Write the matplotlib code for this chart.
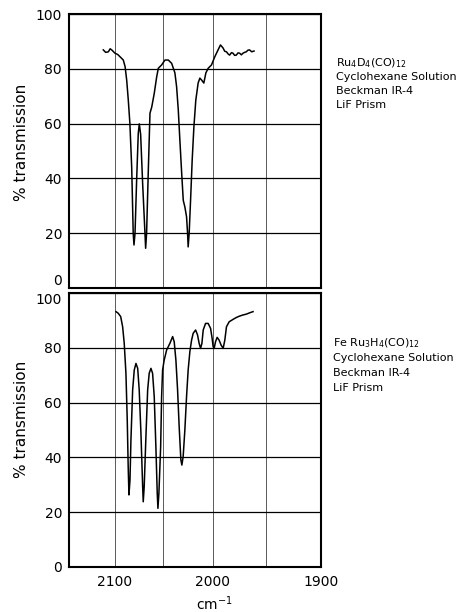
import numpy as np
import matplotlib
matplotlib.use("Agg")
import matplotlib.pyplot as plt

# Ru4D4(CO)12 spectrum (wavenumber cm-1, % transmission)
ru4d4_wn = [2112.6, 2110.0, 2107.1, 2105.2, 2103.5, 2100.0, 2097.0, 2094.6, 2091.1, 2089.2,
            2087.5, 2085.8, 2084.1, 2082.2, 2080.6, 2079.8, 2078.7, 2077.0, 2075.3, 2074.2,
            2072.8, 2070.7, 2068.3, 2067.6, 2066.6, 2064.9, 2063.1, 2061.3, 2058.7, 2056.2,
            2054.5, 2051.1, 2047.7, 2044.3, 2040.9, 2037.6, 2035.9, 2034.2, 2032.6, 2030.8,
            2029.2, 2027.6, 2025.9, 2024.9, 2024.3, 2023.3, 2021.9, 2020.3, 2018.6, 2016.7,
            2014.4, 2012.7, 2011.0, 2008.8, 2006.8, 2004.5, 2001.3, 1998.1, 1994.9, 1992.6,
            1990.1, 1988.5, 1986.8, 1985.2, 1983.8, 1982.0, 1980.6, 1979.0, 1977.4, 1975.8,
            1974.3, 1972.6, 1971.1, 1969.5, 1968.0, 1966.4, 1964.9, 1962.8, 1960.7]
ru4d4_t = [86.9, 86.0, 86.2, 87.3, 86.9, 85.7, 85.2, 84.4, 83.2, 80.8,
           75.9, 68.6, 60.0, 44.0, 20.0, 15.7, 20.0, 39.4, 56.4, 59.9,
           56.0, 38.0, 20.0, 14.5, 20.0, 42.0, 63.8, 66.0, 71.0, 77.0,
           80.2, 81.4, 83.2, 83.2, 82.0, 78.5, 73.5, 65.0, 54.0, 42.0,
           32.0, 29.6, 26.0, 20.0, 15.0, 20.0, 32.0, 46.7, 58.8, 68.6,
           74.8, 76.6, 75.9, 74.8, 78.5, 80.2, 81.4, 84.4, 86.9, 88.7,
           87.6, 86.4, 86.2, 85.4, 85.0, 85.9, 85.7, 84.9, 85.0, 85.8,
           85.7, 85.1, 85.7, 86.0, 86.2, 86.8, 86.9, 86.2, 86.5]

# FeRu3H4(CO)12 spectrum
feru3h4_wn = [2098.9, 2096.5, 2093.9, 2091.8, 2090.1, 2088.3, 2086.9, 2085.9, 2085.1, 2084.0,
              2083.0, 2081.2, 2079.5, 2077.7, 2075.9, 2074.3, 2072.5, 2070.7, 2070.1, 2069.1,
              2067.3, 2065.5, 2063.9, 2062.1, 2060.4, 2058.7, 2057.0, 2055.6, 2054.9, 2053.9,
              2052.1, 2051.1, 2050.1, 2048.5, 2046.0, 2042.7, 2039.9, 2038.3, 2036.6, 2034.9,
              2033.3, 2031.6, 2030.6, 2029.3, 2027.6, 2025.9, 2024.3, 2022.6, 2020.9, 2019.3,
              2016.9, 2015.0, 2013.4, 2012.0, 2010.7, 2009.4, 2007.1, 2004.6, 2002.2, 2000.7,
              1999.7, 1998.7, 1997.4, 1995.8, 1993.9, 1992.0, 1990.0, 1988.4, 1986.8, 1984.2,
              1980.4, 1977.2, 1974.1, 1970.9, 1967.8, 1964.6, 1961.6]
feru3h4_t = [93.2, 92.6, 91.4, 87.7, 81.6, 70.7, 53.6, 36.6, 26.3, 31.8,
             46.4, 64.6, 71.9, 74.3, 72.5, 64.6, 48.9, 29.3, 23.8, 29.3,
             47.6, 64.6, 70.7, 72.5, 70.7, 62.2, 43.9, 26.9, 21.4, 26.9,
             43.9, 62.2, 71.9, 75.5, 79.2, 81.6, 84.1, 82.2, 75.5, 64.6,
             51.2, 39.1, 37.2, 40.3, 50.0, 62.2, 71.9, 78.6, 82.8, 85.3,
             86.5, 84.7, 81.6, 79.8, 81.6, 86.5, 88.9, 88.9, 87.1, 83.5,
             80.4, 79.8, 82.2, 83.8, 82.8, 81.0, 79.8, 82.8, 87.7, 89.5,
             90.4, 91.1, 91.6, 92.0, 92.3, 92.8, 93.2]

x_ticks = [2100, 2050, 2000, 1950, 1900]
x_ticklabels = ["2100", "", "2000", "", "1900"]
y_ticks = [0, 20, 40, 60, 80, 100]

top_notes = [r"Ru$_4$D$_4$(CO)$_{12}$", "Cyclohexane Solution", "Beckman IR-4", "LiF Prism"]
bottom_notes = [r"Fe Ru$_3$H$_4$(CO)$_{12}$", "Cyclohexane Solution", "Beckman IR-4", "LiF Prism"]


# prism spectrum: linear in wavelength
def fwd(x):
    x = np.asarray(x, dtype=float)
    with np.errstate(divide="ignore", invalid="ignore"):
        return -1e4 / x


def inv(y):
    y = np.asarray(y, dtype=float)
    with np.errstate(divide="ignore", invalid="ignore"):
        return -1e4 / y


fig = plt.figure(figsize=(4.64, 6.12), dpi=100)
ax_top = fig.add_axes([69 / 464, 1 - 288 / 612, 252 / 464, 274 / 612])
ax_bot = fig.add_axes([69 / 464, 1 - 567 / 612, 252 / 464, 274 / 612])

for ax, wn, t in [(ax_top, ru4d4_wn, ru4d4_t), (ax_bot, feru3h4_wn, feru3h4_t)]:
    ax.set_xscale("function", functions=(fwd, inv))
    ax.set_xlim(2150.5, 1900)
    ax.set_ylim(0, 100)
    ax.set_xticks(x_ticks)
    ax.set_yticks(y_ticks)
    ax.minorticks_off()
    ax.tick_params(length=0, labelsize=10, pad=5)
    ax.grid(axis="y", color="black", linewidth=0.9)
    ax.grid(axis="x", color="0.35", linewidth=0.7)
    ax.plot(wn, t, color="black", linewidth=1.1)
    for s in ax.spines.values():
        s.set_linewidth(1.5)

ax_top.set_xticklabels([])
ax_bot.set_xticklabels(x_ticklabels)
ax_bot.tick_params(axis="x", pad=6)

# the "0" of the upper panel sits just above the "100" of the lower one
ax_top.get_yticklabels()[0].set_va("bottom")
ax_bot.get_yticklabels()[-1].set_va("top")

fig.text(22 / 464, 1 - 142 / 612, "% transmission", rotation=90, fontsize=11,
         ha="center", va="center")
fig.text(22 / 464, 1 - 419 / 612, "% transmission", rotation=90, fontsize=11,
         ha="center", va="center")
fig.text(214 / 464, 1 - 604 / 612, r"cm$^{-1}$", fontsize=10, ha="center", va="center")

for i, s in enumerate(top_notes):
    fig.text(336 / 464, 1 - (63 + 14 * i) / 612, s, fontsize=8, ha="left", va="center")
for i, s in enumerate(bottom_notes):
    fig.text(333 / 464, 1 - (343 + 15 * i) / 612, s, fontsize=8, ha="left", va="center")

fig.savefig("out.png", dpi=100)
